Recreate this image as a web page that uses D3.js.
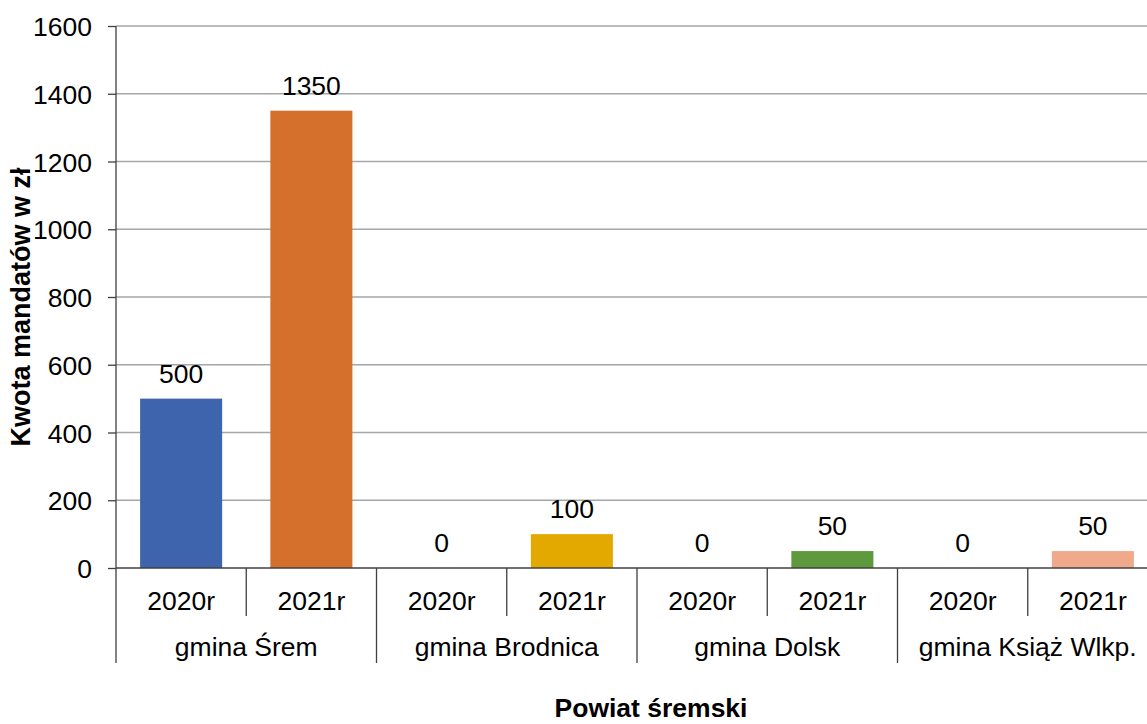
<!DOCTYPE html>
<html><head><meta charset="utf-8">
<script src="https://cdn.jsdelivr.net/npm/d3@7"></script>
<style>body{margin:0;background:#fff;overflow:hidden}text{font-family:"Liberation Sans",Arial,sans-serif;fill:#000}</style>
</head><body><svg id="c" width="1147" height="724"></svg>
<script>
const groups = ["gmina Śrem","gmina Brodnica","gmina Dolsk","gmina Książ Wlkp."];
const years = ["2020r","2021r"];
const values = [500,1350, 0,100, 0,50, 0,50];
const colors = ["#3F64AE","#D4702B","#4472C4","#E4A900","#4472C4","#5F993D","#4472C4","#F1A98B"];
const yTicks = [0,200,400,600,800,1000,1200,1400,1600];

const svg = d3.select("#c");
const x0 = 116, bandW = 130.25, nb = values.length;
const yTop = 26, yBot = 568;
const fs = "26.5px";
const bars = values.map((v,i)=>({key:i, group:groups[Math.floor(i/2)], year:years[i%2], v, c:colors[i]}));
const x = d3.scaleBand().domain(d3.range(nb)).range([x0, x0+nb*bandW]).paddingInner(0.37).paddingOuter(0.185);
const y = d3.scaleLinear().domain([0,1600]).range([yBot,yTop]);

// gridlines
svg.append("g").selectAll("line").data(yTicks.filter(t=>t>0)).join("line")
  .attr("x1",x0).attr("x2",1147).attr("y1",d=>y(d)).attr("y2",d=>y(d))
  .attr("stroke","#a6a6a6").attr("stroke-width",1.3);

// y axis
const ya = svg.append("g").attr("transform",`translate(${x0},0)`)
  .call(d3.axisLeft(y).tickValues(yTicks).tickSize(8).tickPadding(16).tickFormat(d3.format("d")));
ya.select(".domain").remove();
ya.selectAll("line").attr("stroke","#404040").attr("stroke-width",1.3);
ya.selectAll("text").style("font-size",fs).attr("fill","#000").attr("dy","0.36em");
svg.append("line").attr("x1",x0).attr("x2",x0).attr("y1",yTop).attr("y2",663).attr("stroke","#404040").attr("stroke-width",1.3);

// bars
svg.append("g").selectAll("rect").data(bars).join("rect")
  .attr("x",d=>x(d.key)).attr("width",x.bandwidth())
  .attr("y",d=>y(d.v)).attr("height",d=>yBot-y(d.v)).attr("fill",d=>d.c);

// data labels
svg.append("g").selectAll("text").data(bars).join("text")
  .attr("x",d=>x(d.key)+x.bandwidth()/2).attr("y",d=>y(d.v)-16)
  .attr("text-anchor","middle").style("font-size",fs).text(d=>d.v);

// x axis line
svg.append("line").attr("x1",x0).attr("x2",1147).attr("y1",yBot).attr("y2",yBot).attr("stroke","#404040").attr("stroke-width",1.3);

// category separators
const seps = d3.range(1,nb);
svg.append("g").selectAll("line").data(seps).join("line")
  .attr("x1",i=>x0+i*bandW).attr("x2",i=>x0+i*bandW)
  .attr("y1",yBot).attr("y2",i=>i%2===0?663:616)
  .attr("stroke","#404040").attr("stroke-width",1.3);

// year labels
svg.append("g").selectAll("text").data(bars).join("text")
  .attr("x",d=>x(d.key)+x.bandwidth()/2).attr("y",610)
  .attr("text-anchor","middle").style("font-size",fs).text(d=>d.year);

// group labels
svg.append("g").selectAll("text").data(groups).join("text")
  .attr("x",(d,i)=>x0+(2*i+1)*bandW).attr("y",656)
  .attr("text-anchor","middle").style("font-size",fs).text(d=>d);

// axis titles
svg.append("text").attr("x",651).attr("y",717).attr("text-anchor","middle")
  .style("font-size","26.5px").style("font-weight","bold").text("Powiat śremski");
svg.append("text").attr("transform","translate(30,307) rotate(-90)").attr("text-anchor","middle")
  .style("font-size","27px").style("font-weight","bold").text("Kwota mandatów w zł");
</script></body></html>
